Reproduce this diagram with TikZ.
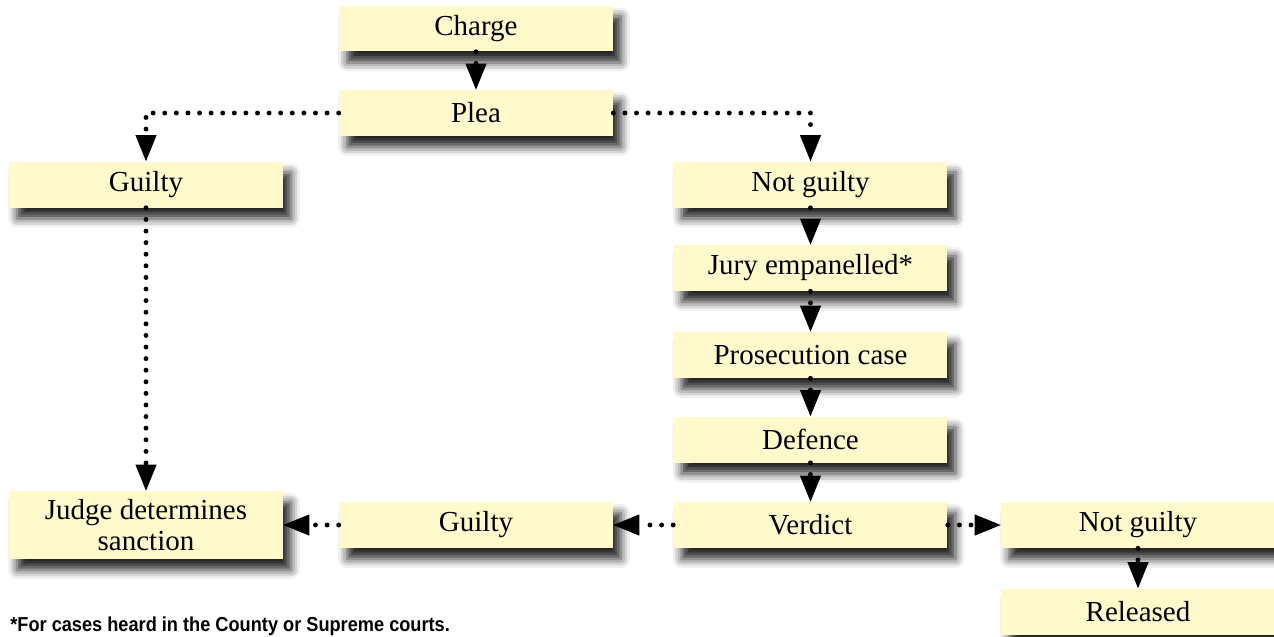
\documentclass[tikz,border=0pt]{standalone}
\usepackage{fontspec}
\setmainfont{Liberation Serif}
\newfontfamily\notefont[FakeStretch=0.9]{Liberation Sans}
\usetikzlibrary{arrows.meta,shadows.blur}
\definecolor{boxfill}{RGB}{255,249,204}

\begin{document}
\begin{tikzpicture}[x=0.02cm, y=-0.02cm,
  box/.style={fill=boxfill, minimum width=5.48cm, minimum height=0.92cm, inner sep=2pt, align=center,
    font=\fontsize{16.5}{18}\selectfont,
    blur shadow={shadow xshift=0.16cm, shadow yshift=-0.22cm, shadow blur radius=0.18cm, shadow opacity=85}},
  link/.style={line width=2.8pt, line cap=round, dash pattern=on 0pt off 6.6pt,
    -{Triangle[length=0.52cm, width=0.42cm, line width'=0.4pt]}}]
\useasboundingbox (0,0) rectangle (1274,636);

\node[box] (Charge) at (476,28.5) {Charge};
\node[box] (Plea) at (476,113) {Plea};
\node[box] (GuiltyPlea) at (146,184.5) {Guilty};
\node[box] (NotGuiltyPlea) at (810.5,184.5) {Not guilty};
\node[box] (Jury) at (810.5,268) {Jury empanelled*};
\node[box] (Prosecution) at (810.5,355) {Prosecution case};
\node[box] (Defence) at (810.5,439.5) {Defence};
\node[box] (Verdict) at (810.5,525) {Verdict};
\node[box] (GuiltyVerdict) at (476,525) {Guilty};
\node[box, minimum height=1.36cm] (Judge) at (146,525) {Judge determines\\sanction};
\node[box] (NotGuiltyVerdict) at (1138,525) {Not guilty};
\node[box] (Released) at (1138,611.5) {Released};
\node[anchor=west, inner sep=0pt, font=\notefont\bfseries\fontsize{11.5}{13}\selectfont] (Note) at (10,626) {*For cases heard in the County or Supreme courts.};

\draw[link] (Charge) -- (Plea);
\draw[link] (Plea.west) -| (GuiltyPlea.north);
\draw[link] (Plea.east) -| (NotGuiltyPlea.north);
\draw[link] (GuiltyPlea) -- (Judge);
\draw[link] (NotGuiltyPlea) -- (Jury);
\draw[link] (Jury) -- (Prosecution);
\draw[link] (Prosecution) -- (Defence);
\draw[link] (Defence) -- (Verdict);
\draw[link] (Verdict) -- (GuiltyVerdict);
\draw[link] (GuiltyVerdict) -- (Judge);
\draw[link] (Verdict) -- (NotGuiltyVerdict);
\draw[link] (NotGuiltyVerdict) -- (Released);
\end{tikzpicture}
\end{document}
